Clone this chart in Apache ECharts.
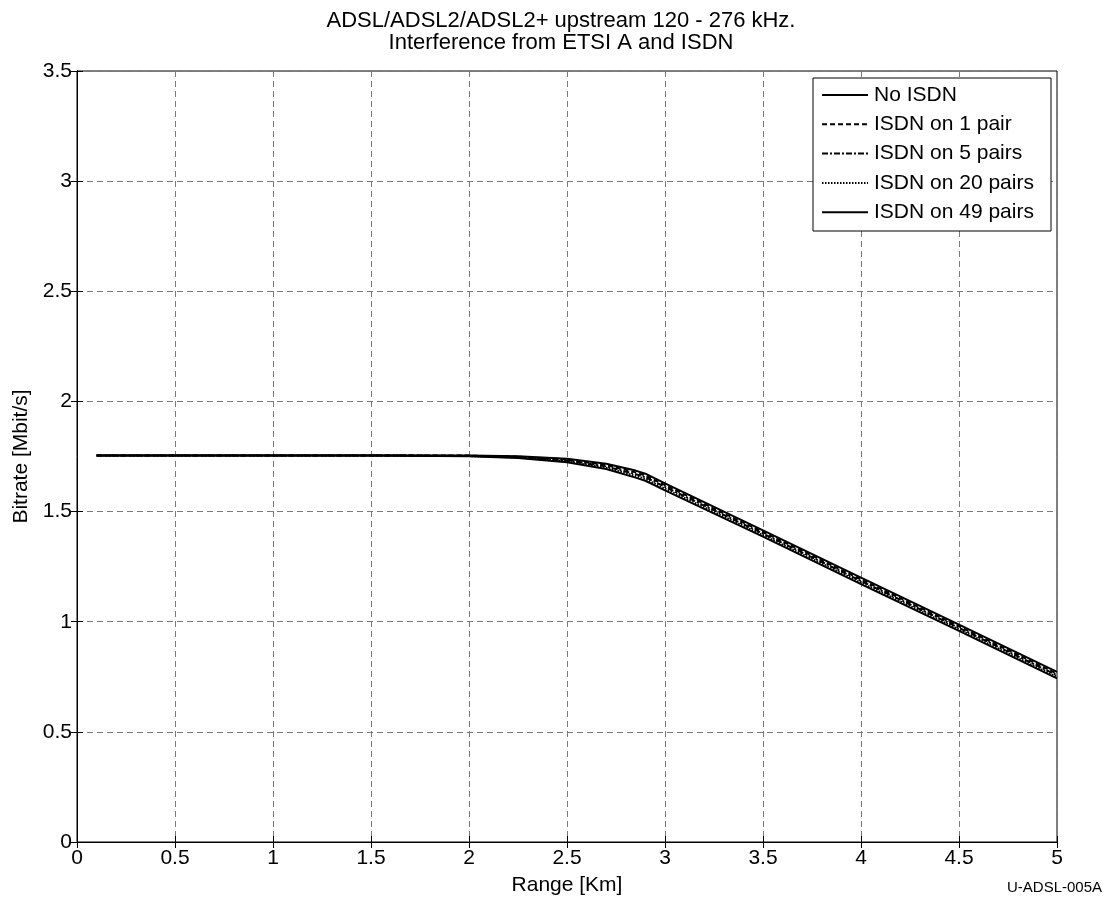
<!DOCTYPE html>
<html><head><meta charset="utf-8">
<script src="https://cdn.jsdelivr.net/npm/echarts@6/dist/echarts.min.js"></script>
<style>html,body{margin:0;padding:0;background:#fff}#c{width:1112px;height:899px}</style>
</head><body><div id="c"></div>
<script>
const rangeKm = [0.1,0.5,1,1.5,2,2.25,2.5,2.7,2.85,2.9,3,3.5,4,4.5,5];
const noIsdn  = [1.755,1.755,1.755,1.755,1.755,1.751,1.740,1.717,1.686,1.672,1.628,1.415,1.200,0.987,0.772];
const isdn1   = [1.755,1.755,1.755,1.755,1.754,1.749,1.736,1.711,1.678,1.664,1.620,1.407,1.192,0.979,0.764];
const isdn5   = [1.755,1.755,1.755,1.755,1.753,1.747,1.732,1.705,1.670,1.656,1.612,1.400,1.185,0.972,0.757];
const isdn20  = [1.755,1.755,1.755,1.755,1.752,1.745,1.728,1.699,1.662,1.648,1.604,1.393,1.178,0.965,0.750];
const isdn49  = [1.755,1.755,1.755,1.755,1.751,1.743,1.724,1.693,1.654,1.640,1.596,1.386,1.171,0.958,0.743];
const seriesNames = ['No ISDN','ISDN on 1 pair','ISDN on 5 pairs','ISDN on 20 pairs','ISDN on 49 pairs'];
const seriesData = [noIsdn, isdn1, isdn5, isdn20, isdn49];
const lineTypes = ['solid',[5,3],[6,2,2,2],[1.5,1.5],'solid'];
const titleLines = ['ADSL/ADSL2/ADSL2+ upstream 120 - 276 kHz.','Interference from ETSI A and ISDN'];

const font = 'Liberation Sans, Arial, sans-serif';
const chart = echarts.init(document.getElementById('c'));
const gridLine = {show:true, lineStyle:{color:'#7a7a7a', type:[6,4], width:1}};

// manual legend (Matlab style)
const legendGraphics = [{type:'rect', shape:{x:813, y:78, width:238, height:153},
  style:{fill:'#fff', stroke:'#000', lineWidth:1}, z:100}];
seriesNames.forEach((n,i)=>{
  const yc = 95 + i*29.3;
  legendGraphics.push({type:'line', shape:{x1:822, y1:yc, x2:868, y2:yc},
    style:{stroke:'#000', lineWidth:2, lineDash: lineTypes[i]==='solid'?null:lineTypes[i]}, z:101});
  legendGraphics.push({type:'text', x:874, y:yc, style:{text:n, font:'21px '+font, fill:'#000', textVerticalAlign:'middle', verticalAlign:'middle'}, z:101});
});

chart.setOption({
  animation:false,
  backgroundColor:'#fff',
  title:{text:titleLines.join('\n'), left:556, textAlign:'center', top:5,
    textStyle:{fontFamily:font, fontSize:22, fontWeight:'normal', color:'#000', lineHeight:22}},
  graphic:[{type:'text', x:1007, y:888, style:{text:'U-ADSL-005A', font:'15px '+font, fill:'#000', verticalAlign:'middle', textVerticalAlign:'middle'}}].concat(legendGraphics),
  grid:{left:77, right:55, top:71, bottom:57, show:true, borderColor:'#000', borderWidth:1, containLabel:false, outerBoundsMode:'none'},
  xAxis:[{type:'value', min:0, max:5, interval:0.5, name:'Range [Km]', nameLocation:'middle', nameGap:33,
    nameTextStyle:{fontFamily:font, fontSize:21, color:'#000'},
    axisLine:{show:true, onZero:false, lineStyle:{color:'#000'}},
    axisTick:{show:true, inside:true, length:6, lineStyle:{color:'#000'}},
    axisLabel:{fontFamily:font, fontSize:21, color:'#000', margin:6},
    splitLine:gridLine},
    {type:'value', position:'top', min:0, max:5, interval:0.5, axisLine:{show:true, lineStyle:{color:'#000'}},
    axisTick:{show:true, inside:true, length:6, lineStyle:{color:'#000'}}, axisLabel:{show:false}, splitLine:{show:false}}],
  yAxis:[{type:'value', min:0, max:3.5, interval:0.5, name:'Bitrate [Mbit/s]', nameLocation:'middle', nameGap:44,
    nameTextStyle:{fontFamily:font, fontSize:21, color:'#000'},
    axisLine:{show:true, onZero:false, lineStyle:{color:'#000'}},
    axisTick:{show:true, inside:true, length:6, lineStyle:{color:'#000'}},
    axisLabel:{fontFamily:font, fontSize:21, color:'#000', margin:5},
    splitLine:gridLine},
    {type:'value', position:'right', min:0, max:3.5, interval:0.5, axisLine:{show:true, lineStyle:{color:'#000'}},
    axisTick:{show:true, inside:true, length:6, lineStyle:{color:'#000'}}, axisLabel:{show:false}, splitLine:{show:false}}],
  series: seriesNames.map((n,i)=>({
    name:n, type:'line', symbol:'none', smooth:false, color:'#000',
    lineStyle:{color:'#000', width:2, type:lineTypes[i]},
    data: rangeKm.map((x,j)=>[x, seriesData[i][j]])
  }))
});
</script></body></html>
